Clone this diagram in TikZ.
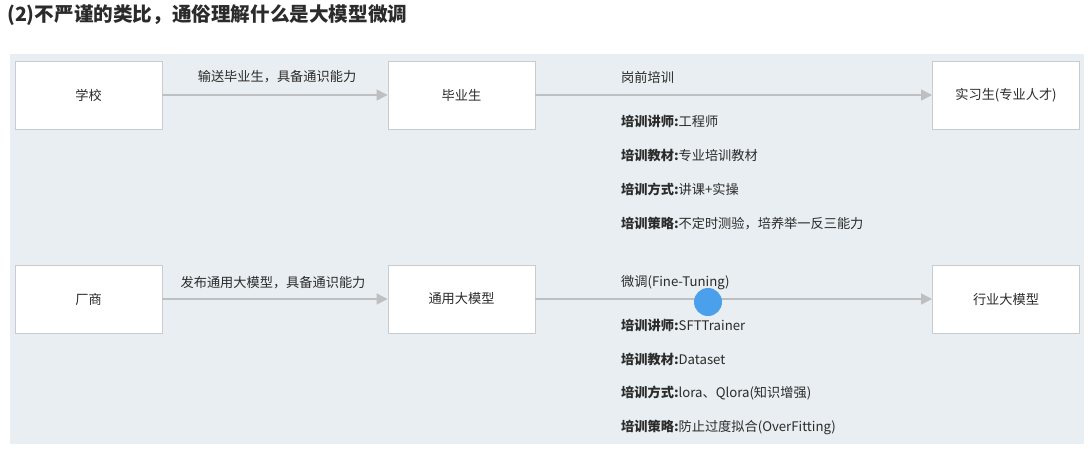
\documentclass[tikz,border=0pt]{standalone}
\usepackage{fontspec}
\setmainfont{Noto Sans CJK SC}
\usetikzlibrary{arrows.meta}
\definecolor{panel}{HTML}{E8EEF1}
\definecolor{boxline}{HTML}{C8CCCE}
\definecolor{arrowgray}{HTML}{BDBFC0}
\definecolor{txt}{HTML}{2B2B2B}
\definecolor{cursorblue}{HTML}{4AA0EA}
\tikzset{
  box/.style={draw=boxline, line width=0.9pt, fill=white, minimum width=147pt, minimum height=68pt, inner sep=0pt, text=txt, font=\fontsize{13.2}{15}\selectfont},
  arr/.style={draw=arrowgray, line width=1.3pt, -{Triangle[length=11pt,width=11pt]}},
  lbl/.style={text=txt, inner sep=0pt, font=\fontsize{13.2}{15}\selectfont},
  info/.style={lbl, anchor=west},
}
\begin{document}
\begin{tikzpicture}[x=1pt,y=-1pt]
\useasboundingbox (0,0) rectangle (1091,448);
\fill[white] (0,0) rectangle (1091,448);
\node[anchor=west, inner sep=0pt, text=txt, font=\fontsize{19.6}{22}\selectfont\bfseries] (title) at (7,15) {(2)不严谨的类比，通俗理解什么是大模型微调};
\fill[panel] (10,54) rectangle (1084,444);

% row 1
\node[box] (school) at (88.5,95) {学校};
\node[box] (grad) at (461.5,95) {毕业生};
\node[box] (intern) at (1006,95) {实习生(专业人才)};
\draw[arr] (school) -- (grad);
\draw[arr] (grad) -- (intern);
\node[lbl] (l1) at (277,77) {输送毕业生，具备通识能力};
\node[info] (t1) at (621,77) {岗前培训};
\node[info] (a1) at (621,121) {{\bfseries 培训讲师:}工程师};
\node[info] (a2) at (621,155) {{\bfseries 培训教材:}专业培训教材};
\node[info] (a3) at (621,189) {{\bfseries 培训方式:}讲课+实操};
\node[info] (a4) at (621,223) {{\bfseries 培训策略:}不定时测验，培养举一反三能力};

% row 2
\node[box] (vendor) at (88.5,299) {厂商};
\node[box] (general) at (461.5,299) {通用大模型};
\node[box] (industry) at (1006,299) {行业大模型};
\draw[arr] (vendor) -- (general);
\draw[arr] (general) -- (industry);
\node[lbl] (l2) at (273,283) {发布通用大模型，具备通识能力};
\node[info] (t2) at (621,283) {微调(Fine-Tuning)};
\node[info] (b1) at (621,325) {{\bfseries 培训讲师:}SFTTrainer};
\node[info] (b2) at (621,359) {{\bfseries 培训教材:}Dataset};
\node[info] (b3) at (621,393) {{\bfseries 培训方式:}lora、Qlora(知识增强)};
\node[info] (b4) at (621,427) {{\bfseries 培训策略:}防止过度拟合(OverFitting)};

\node[circle, fill=cursorblue, minimum size=28pt, inner sep=0pt] (cursor) at (708,302) {};
\end{tikzpicture}
\end{document}
